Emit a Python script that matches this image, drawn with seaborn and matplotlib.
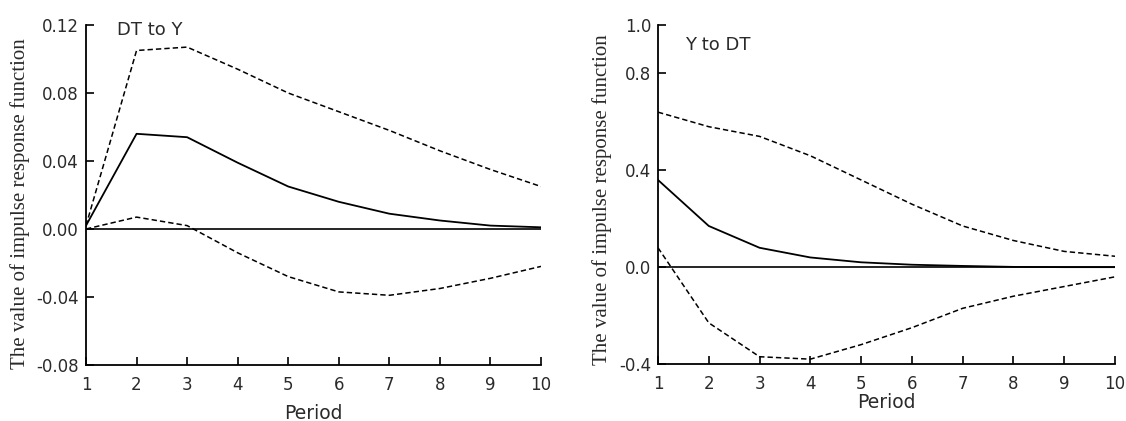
import numpy as np
import pandas as pd
import matplotlib
matplotlib.use("Agg")
import matplotlib.pyplot as plt
import seaborn as sns

periods = [1, 2, 3, 4, 5, 6, 7, 8, 9, 10]

dt_to_y_resp = [0.002, 0.056, 0.054, 0.039, 0.025, 0.016, 0.009, 0.005, 0.002, 0.001]
dt_to_y_upper = [0.002, 0.105, 0.107, 0.094, 0.080, 0.069, 0.058, 0.046, 0.035, 0.025]
dt_to_y_lower = [0.000, 0.007, 0.002, -0.014, -0.028, -0.037, -0.039, -0.035, -0.029, -0.022]

y_to_dt_resp = [0.36, 0.17, 0.08, 0.04, 0.02, 0.01, 0.005, 0.001, 0.0, 0.0]
y_to_dt_upper = [0.64, 0.58, 0.54, 0.46, 0.36, 0.26, 0.17, 0.11, 0.065, 0.045]
y_to_dt_lower = [0.08, -0.23, -0.37, -0.38, -0.32, -0.25, -0.17, -0.12, -0.08, -0.04]

left_yticks = [-0.08, -0.04, 0.00, 0.04, 0.08, 0.12]
left_yticklabels = ["-0.08", "-0.04", "0.00", "0.04", "0.08", "0.12"]
right_yticks = [-0.4, 0.0, 0.4, 0.8, 1.0]
right_yticklabels = ["-0.4", "0.0", "0.4", "0.8", "1.0"]

sns.set_theme(style="white")
plt.rcParams['font.family'] = ['DejaVu Sans']

fig = plt.figure(figsize=(11.26, 4.21), dpi=100)
ax1 = fig.add_axes([86/1126, 56/421, 455/1126, 340/421])
ax2 = fig.add_axes([658/1126, 57/421, 457/1126, 339/421])

txtc = "#2a2a2a"

def draw(ax, resp, up, lo, ylim, yt, ytl, title, tx, ty, xlpad, ylx, yly):
    df = pd.DataFrame({"Period": periods, "resp": resp, "up": up, "lo": lo})
    sns.lineplot(data=df, x="Period", y="up", ax=ax, color="black", lw=1.1,
                 linestyle=(0, (3.5, 2)))
    sns.lineplot(data=df, x="Period", y="lo", ax=ax, color="black", lw=1.1,
                 linestyle=(0, (3.5, 2)))
    sns.lineplot(data=df, x="Period", y="resp", ax=ax, color="black", lw=1.3)
    ax.axhline(0, color="black", lw=1.2)
    ax.set_xlim(1, 10)
    ax.set_ylim(*ylim)
    ax.set_xticks(periods)
    ax.set_xticklabels([str(p) for p in periods])
    ax.set_yticks(yt)
    ax.set_yticklabels(ytl)
    for s in ["top", "right"]:
        ax.spines[s].set_visible(False)
    for s in ["left", "bottom"]:
        ax.spines[s].set_color("black")
        ax.spines[s].set_linewidth(1.3)
    ax.tick_params(direction="in", length=6, width=1.2, colors="black",
                   labelcolor=txtc, labelsize=12, left=True, bottom=True)
    ax.tick_params(axis="x", pad=8)
    ax.tick_params(axis="y", pad=5)
    ax.set_xlabel("Period", fontsize=13.5, color=txtc, labelpad=xlpad)
    ax.set_ylabel("The value of impulse response function", fontsize=15,
                  family="Liberation Serif", color=txtc)
    ax.yaxis.set_label_coords(ylx, yly)
    ax.text(tx, ty, title, transform=ax.transAxes, fontsize=13, color=txtc,
            ha="left", va="center")

draw(ax1, dt_to_y_resp, dt_to_y_upper, dt_to_y_lower, (-0.08, 0.12),
     left_yticks, left_yticklabels, "DT to Y", 0.068, 0.985, 7, -0.122, 0.474)
draw(ax2, y_to_dt_resp, y_to_dt_upper, y_to_dt_lower, (-0.4, 1.0),
     right_yticks, right_yticklabels, "Y to DT", 0.06, 0.94, 0, -0.101, 0.485)

fig.savefig("out.png", dpi=100, facecolor="white")
